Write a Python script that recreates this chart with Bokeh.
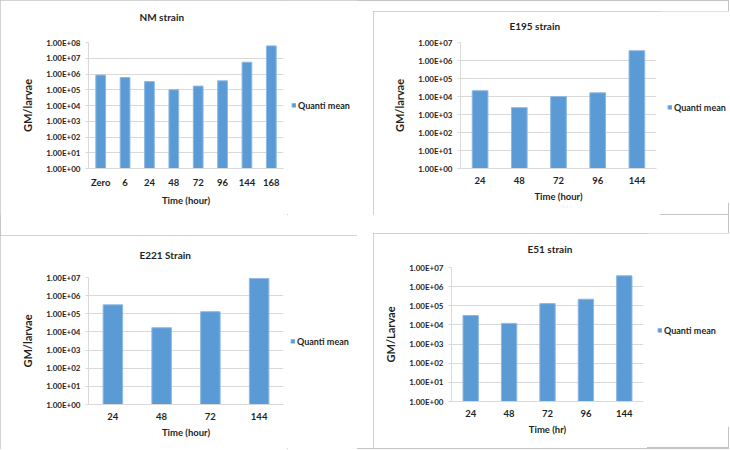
from bokeh.plotting import figure
from bokeh.layouts import row, column
from bokeh.models import (ColumnDataSource, FactorRange, Range1d, FixedTicker,
                          CustomJSTickFormatter, Legend, LegendItem, Spacer, Title)
from bokeh.embed import file_html
from bokeh.resources import INLINE

# ---------------- data ----------------
NM_HOURS = ["Zero", "6", "24", "48", "72", "96", "144", "168"]
NM_MEAN = [8.5e5, 6.0e5, 3.3e5, 1.0e5, 1.7e5, 3.7e5, 5.6e6, 6.1e7]

E195_HOURS = ["24", "48", "72", "96", "144"]
E195_MEAN = [2.1e4, 2.4e3, 1.0e4, 1.6e4, 3.5e6]

E221_HOURS = ["24", "48", "72", "144"]
E221_MEAN = [3.1e5, 1.7e4, 1.3e5, 8.9e6]

E51_HOURS = ["24", "48", "72", "96", "144"]
E51_MEAN = [3.1e4, 1.2e4, 1.3e5, 2.2e5, 3.7e6]

Y_TICK_LABELS = ["1.00E+00", "1.00E+01", "1.00E+02", "1.00E+03", "1.00E+04",
                 "1.00E+05", "1.00E+06", "1.00E+07", "1.00E+08"]
SERIES_NAME = "Quanti mean"

FONT = "Lato"
TXT = "#1F1F1F"
BAR = "#5B9BD5"
BAR_EDGE = "#8FB8E3"
GRID = "#D9D9D9"
BORDER = "#C4C4C4"
OUTLINE = {"outline": "1px solid " + BORDER, "outline-offset": "-1px"}


def style_plot(p, title, title_off, ndec, xlabel, ylabel):
    p.outline_line_color = None
    p.background_fill_color = "white"
    p.border_fill_color = "white"
    p.title.text = title
    p.title.text_font = FONT
    p.title.text_font_style = "bold"
    p.title.text_font_size = "10px"
    p.title.text_color = TXT
    p.title.align = "left"
    p.title.offset = title_off
    p.title.standoff = 0

    p.xgrid.grid_line_color = None
    p.ygrid.grid_line_color = GRID

    ya = p.yaxis[0]
    ya.ticker = FixedTicker(ticks=[10 ** i for i in range(ndec + 1)])
    ya.formatter = CustomJSTickFormatter(args=dict(labels=Y_TICK_LABELS[:ndec + 1]),
                                         code="return labels[Math.round(Math.log10(tick))];")
    ya.axis_line_color = GRID
    ya.major_tick_line_color = GRID
    ya.major_tick_out = 3
    ya.major_tick_in = 0
    ya.minor_tick_line_color = None
    ya.major_label_standoff = 5
    ya.major_label_text_font = FONT
    ya.major_label_text_font_style = "bold"
    ya.major_label_text_font_size = "8px"
    ya.major_label_text_color = TXT
    ya.axis_label = ylabel
    ya.axis_label_text_font = FONT
    ya.axis_label_text_font_style = "bold"
    ya.axis_label_text_font_size = "11px"
    ya.axis_label_text_color = TXT
    ya.axis_label_standoff = 9

    xa = p.xaxis[0]
    xa.axis_line_color = GRID
    xa.major_tick_line_color = None
    xa.major_tick_out = 0
    xa.major_label_standoff = 8
    xa.major_label_text_font = FONT
    xa.major_label_text_font_style = "bold"
    xa.major_label_text_font_size = "9.5px"
    xa.major_label_text_color = TXT
    xa.axis_label = xlabel
    xa.axis_label_text_font = FONT
    xa.axis_label_text_font_style = "bold"
    xa.axis_label_text_font_size = "9.5px"
    xa.axis_label_text_color = TXT
    xa.axis_label_standoff = 4


def panel(title, cats, vals, ndec, xlabel, ylabel, w, h, left, fw, top, bottom,
          title_off, title_gap, leg_x, leg_cy):
    pw = left + fw + 4
    lw = w - pw
    p = figure(width=pw, height=h, x_range=FactorRange(*cats),
               y_range=Range1d(1, 10 ** ndec), y_axis_type="log",
               output_backend="svg", toolbar_location=None,
               min_border_left=left, min_border_right=4,
               min_border_top=top, min_border_bottom=bottom)
    src = ColumnDataSource(dict(x=cats, top=vals, bottom=[1] * len(vals)))
    p.vbar(x="x", top="top", bottom="bottom", width=0.4, source=src,
           fill_color=BAR, line_color=BAR_EDGE, line_width=1)
    style_plot(p, title, title_off, ndec, xlabel, ylabel)
    # invisible spacer between the frame and the chart title
    p.add_layout(Title(text=" ", text_font_size="1px", standoff=title_gap), "above")

    # legend lives in a small companion canvas to the right of the plot
    lh = min(h, int(round(2 * leg_cy)))
    lf = figure(width=lw, height=lh, x_range=Range1d(0, 1), y_range=Range1d(0, 1),
                output_backend="svg", toolbar_location=None,
                x_axis_location=None, y_axis_location=None,
                min_border_left=0, min_border_right=0, min_border_top=0, min_border_bottom=0)
    lf.grid.visible = False
    lf.outline_line_color = None
    # legend-only glyph, its single bar lies outside the visible range
    dummy = lf.vbar(x=[5], top=[6], bottom=[5], width=0.4, fill_color=BAR, line_color=BAR_EDGE)
    leg = Legend(items=[LegendItem(label=SERIES_NAME, renderers=[dummy])],
                 location="center_left", padding=0, margin=leg_x, spacing=0,
                 glyph_width=5, glyph_height=5, label_height=10, label_standoff=2,
                 label_text_font=FONT, label_text_font_style="bold",
                 label_text_font_size="9px", label_text_color=TXT,
                 border_line_color=None, background_fill_alpha=0)
    lf.add_layout(leg, "center")
    if lh < h:
        right = column(lf, Spacer(width=lw, height=h - lh), spacing=0)
    else:
        right = lf
    return row(p, right, spacing=0, styles=OUTLINE)


p1 = panel("NM strain", NM_HOURS, NM_MEAN, 8, "Time (hour)", "GM/larvae",
           357, 215, 88, 195, 42, 47, 51, 17, 4, 107.5)
p2 = panel("E195 strain", E195_HOURS, E195_MEAN, 7, "Time (hour)", "GM/larvae",
           356, 204, 87, 196, 31, 47, 49, 8, 7, 96)
p3 = panel("E221 Strain", E221_HOURS, E221_MEAN, 7, "Time (hour)", "GM/larvae",
           357, 214, 88, 195, 42, 45, 51, 14, 3, 107)
p4 = panel("E51 strain", E51_HOURS, E51_MEAN, 7, "Time (hr)", "GM/Larvae",
           356, 215, 78, 192, 34, 47, 76, 10, 10, 97)

left_col = column(p1, Spacer(width=357, height=20), p3, spacing=0)
right_col = column(Spacer(width=356, height=11), p2, Spacer(width=356, height=18), p4, spacing=0)
layout = row(left_col, Spacer(width=16, height=10), right_col, spacing=0, styles=OUTLINE)

open("out.html", "w").write(file_html(layout, INLINE))
